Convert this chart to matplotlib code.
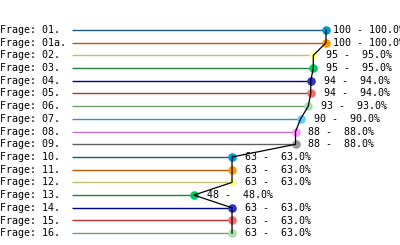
import matplotlib
matplotlib.use("Agg")
import matplotlib.pyplot as plt
from matplotlib.transforms import blended_transform_factory

labels = ["Frage: 01.", "Frage: 01a.", "Frage: 02.", "Frage: 03.", "Frage: 04.",
          "Frage: 05.", "Frage: 06.", "Frage: 07.", "Frage: 08.", "Frage: 09.",
          "Frage: 10.", "Frage: 11.", "Frage: 12.", "Frage: 13.", "Frage: 14.",
          "Frage: 15.", "Frage: 16."]
values = [100, 100, 95, 95, 94, 94, 93, 90, 88, 88, 63, 63, 63, 48, 63, 63, 63]
percents = [100.0, 100.0, 95.0, 95.0, 94.0, 94.0, 93.0, 90.0, 88.0, 88.0,
            63.0, 63.0, 63.0, 48.0, 63.0, 63.0, 63.0]

line_colors = ["#1a5a80", "#c05a00", "#c0c070", "#208040", "#000090",
               "#c03030", "#70a070", "#3090d0", "#c070c0", "#606060"]
marker_colors = ["#0099cc", "#ff9900", "#ffff99", "#00cc66", "#3333cc",
                 "#ff6666", "#aaddaa", "#66ccff", "#ff99ff", "#999999"]

W, H = 400, 245
fig = plt.figure(figsize=(W / 100, H / 100), dpi=100)
x0_px = 72
scale = 2.54  # px per unit
row0_px = 30
row_step = 12.7
ax = fig.add_axes([x0_px / W, 0, 1 - x0_px / W, 1])
ax.set_xlim(0, (W - x0_px) / scale)
ax.set_ylim((H - row0_px) / row_step, -row0_px / row_step)
ax.axis("off")

font = dict(family="DejaVu Sans Mono", fontsize=7.2)
trans = blended_transform_factory(fig.transFigure, ax.transData)

ys = list(range(len(values)))
for i, (lab, v, p) in enumerate(zip(labels, values, percents)):
    lc = line_colors[i % 10]
    mc = marker_colors[i % 10]
    ax.plot([0, v], [i, i], color=lc, lw=1.0, zorder=1, solid_capstyle="butt")
    ax.plot([v], [i], "o", color=mc, ms=6.2, mew=0, zorder=2)
    ax.text(0.0, i, lab, transform=trans, ha="left", va="center", **font)
    ax.annotate("%3d - %5.1f%%" % (v, p), (v, i), xytext=(5.0, 0),
                textcoords="offset points", ha="left", va="center",
                annotation_clip=False, **font)

ax.plot(values, ys, color="black", lw=0.9, zorder=3)

fig.savefig("out.png", dpi=100)
